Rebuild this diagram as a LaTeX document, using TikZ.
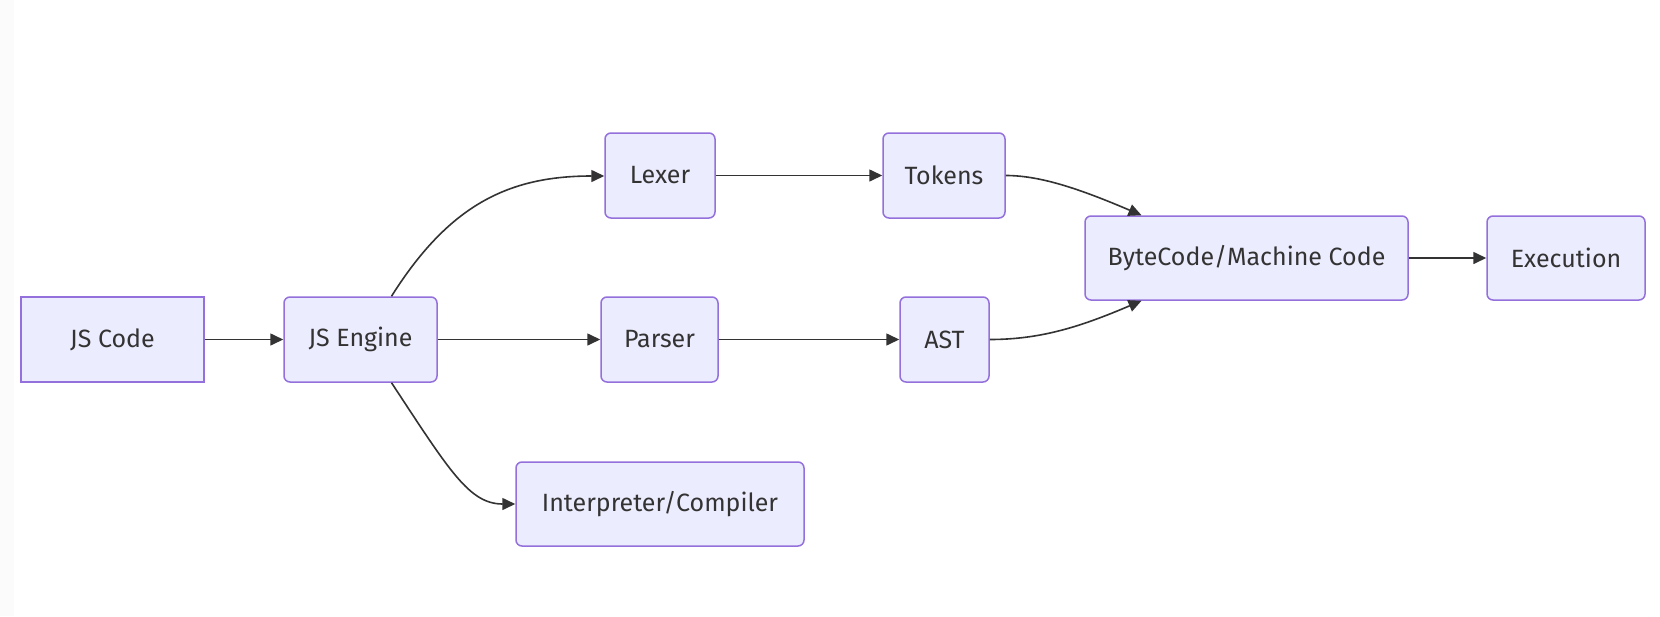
\documentclass[tikz,border=0pt]{standalone}
\usepackage{fontspec}
\setmainfont{Fira Sans}
\usetikzlibrary{arrows.meta}
\definecolor{boxfill}{HTML}{ECECFF}
\definecolor{boxline}{HTML}{9370DB}
\definecolor{ink}{HTML}{333333}
\tikzset{
  box/.style={draw=boxline, fill=boxfill, line width=1.5pt, rounded corners=6pt,
    minimum height=85pt, inner sep=0pt, text=ink, font=\fontsize{25}{29}\selectfont},
  sqbox/.style={box, sharp corners},
  link/.style={draw=ink, line width=1.6pt, -{Triangle[length=13pt,width=12pt]}}
}
\begin{document}
\begin{tikzpicture}[x=1pt,y=-1pt]
\useasboundingbox (0,0) rectangle (1660,616);
\fill[white] (0,0) rectangle (1660,616);
\fill[black!1.5] (0,0) rectangle (14,616);
\node[sqbox, minimum width=183pt] (code) at (112.5,339.5) {JS Code};
\node[box, minimum width=153pt] (eng) at (360.5,339.5) {JS Engine};
\node[box, minimum width=110pt] (lex) at (660,175.5) {Lexer};
\node[box, minimum width=122pt] (tok) at (944,175.5) {Tokens};
\node[box, minimum width=117pt] (par) at (659.5,339.5) {Parser};
\node[box, minimum width=89pt] (ast) at (944.5,339.5) {AST};
\node[box, minimum width=288pt, minimum height=84pt] (interp) at (660,504) {Interpreter/Compiler};
\node[box, minimum width=323pt, minimum height=84pt] (bc) at (1246.5,258) {ByteCode/Machine Code};
\node[box, minimum width=158pt, minimum height=84pt] (exe) at (1566,258) {Execution};

\draw[link] (code) -- (eng);
\draw[link] ([xshift=31pt]eng.north) .. controls +(58,-92) and +(-95,0) .. ([yshift=-0.5pt]lex.west);
\draw[link] (eng) -- (par);
\draw[link] ([xshift=31pt]eng.south) .. controls +(58,88) and +(-46,0) .. (interp.west);
\draw[link] (lex) -- (tok);
\draw[link] (par) -- (ast);
\draw[link] (tok.east) .. controls +(35,0) and +(-61,-26) .. ([xshift=-105pt]bc.north);
\draw[link] (ast.east) .. controls +(51,0) and +(-61,26) .. ([xshift=-105pt]bc.south);
\draw[link] (bc) -- (exe);
\end{tikzpicture}
\end{document}
